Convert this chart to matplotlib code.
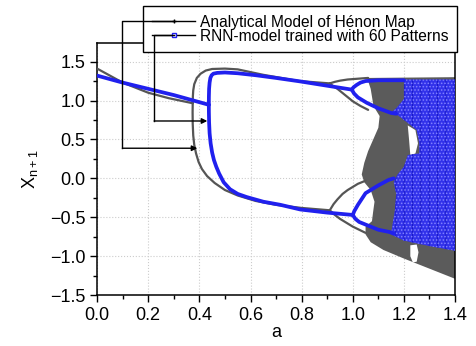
import matplotlib
matplotlib.use("Agg")
import matplotlib.pyplot as plt
from matplotlib.lines import Line2D
from matplotlib.ticker import MultipleLocator

plt.rcParams['font.family'] = ['Liberation Sans', 'DejaVu Sans']
plt.rcParams['mathtext.fontset'] = 'custom'
plt.rcParams['mathtext.rm'] = 'Liberation Sans'
plt.rcParams['hatch.linewidth'] = 0.7

# ---- analytical Henon map (grey) ----
ana_fix_a = [0.0, 0.1, 0.2, 0.28, 0.374]
ana_fix_x = [1.41, 1.23, 1.10, 1.03, 0.965]
ana_p2u_a = [0.374, 0.3745, 0.376, 0.38, 0.39, 0.405, 0.425, 0.45, 0.5, 0.55,
             0.65, 0.79, 0.91]
ana_p2u_x = [0.965, 1.05, 1.13, 1.21, 1.29, 1.345, 1.385, 1.405, 1.41, 1.40,
             1.33, 1.25, 1.22]
ana_p2l_a = [0.374, 0.3735, 0.374, 0.376, 0.38, 0.387, 0.397, 0.41, 0.43, 0.46,
             0.5, 0.55, 0.62, 0.7, 0.8, 0.91]
ana_p2l_x = [0.965, 0.85, 0.7, 0.55, 0.43, 0.32, 0.21, 0.12, 0.03, -0.06,
             -0.15, -0.22, -0.29, -0.34, -0.38, -0.41]
ana_p4a_a = [0.91, 0.93, 0.95, 0.98, 1.02, 1.06]
ana_p4a_x = [1.22, 1.24, 1.255, 1.27, 1.28, 1.29]
ana_p4b_a = [0.91, 0.925, 0.94, 0.97, 1.0, 1.03, 1.06]
ana_p4b_x = [1.22, 1.18, 1.15, 1.07, 0.99, 0.93, 0.88]
ana_p4c_a = [0.91, 0.925, 0.94, 0.96, 0.98, 1.02, 1.05]
ana_p4c_x = [-0.41, -0.33, -0.27, -0.2, -0.15, -0.07, -0.03]
ana_p4d_a = [0.91, 0.93, 0.95, 1.0, 1.05]
ana_p4d_x = [-0.41, -0.47, -0.52, -0.62, -0.70]
# chaotic band outline
ana_chaos_a = [1.06, 1.4, 1.4, 1.3, 1.2, 1.12, 1.07, 1.05, 1.05, 1.075, 1.08,
               1.085, 1.07, 1.045, 1.035, 1.045, 1.06, 1.08, 1.1, 1.105,
               1.09, 1.08, 1.075, 1.07, 1.06]
ana_chaos_x = [1.29, 1.30, -1.29, -1.16, -1.03, -0.92, -0.82, -0.72, -0.62,
               -0.55, -0.42, -0.3, -0.15, -0.05, 0.05, 0.2, 0.35, 0.5, 0.65,
               0.8, 0.88, 0.95, 1.05, 1.15, 1.25]
# periodic windows (white)
win1_a = [1.225, 1.25, 1.257, 1.25, 1.235, 1.225]
win1_x = [-0.86, -0.85, -0.95, -1.07, -1.08, -1.0]
win2_a = [1.215, 1.245, 1.255, 1.245, 1.225, 1.22]
win2_x = [0.68, 0.62, 0.45, 0.32, 0.30, 0.5]

# ---- RNN model (blue) ----
rnn_fix_a = [0.0, 0.1, 0.2, 0.3, 0.437]
rnn_fix_x = [1.32, 1.23, 1.15, 1.07, 0.945]
rnn_p2u_a = [0.437, 0.4372, 0.438, 0.44, 0.443, 0.448, 0.455, 0.47, 0.5, 0.55,
             0.62, 0.7, 0.795, 0.9, 0.996]
rnn_p2u_x = [0.945, 1.05, 1.15, 1.23, 1.29, 1.325, 1.345, 1.355, 1.36, 1.35,
             1.325, 1.29, 1.245, 1.19, 1.14]
rnn_p2l_a = [0.437, 0.4372, 0.438, 0.44, 0.444, 0.45, 0.457, 0.466, 0.477,
             0.495, 0.52, 0.55, 0.585, 0.65, 0.717, 0.795, 0.9, 1.0]
rnn_p2l_x = [0.945, 0.85, 0.72, 0.58, 0.45, 0.33, 0.235, 0.15, 0.064, -0.05,
             -0.14, -0.2, -0.24, -0.3, -0.34, -0.40, -0.44, -0.47]
rnn_p4a_a = [0.996, 1.003, 1.015, 1.03, 1.05, 1.1, 1.2]
rnn_p4a_x = [1.14, 1.17, 1.2, 1.23, 1.25, 1.26, 1.26]
rnn_p4b_a = [0.996, 1.005, 1.02, 1.055, 1.1, 1.15, 1.17]
rnn_p4b_x = [1.14, 1.09, 1.04, 0.97, 0.9, 0.84, 0.83]
rnn_p4c_a = [1.0, 1.006, 1.02, 1.05, 1.1, 1.14, 1.16]
rnn_p4c_x = [-0.47, -0.42, -0.34, -0.19, -0.09, -0.02, 0.0]
rnn_p4d_a = [1.0, 1.01, 1.025, 1.055, 1.1, 1.145, 1.16]
rnn_p4d_x = [-0.47, -0.52, -0.56, -0.60, -0.66, -0.69, -0.71]
rnn_chaos_a = [1.2, 1.4, 1.4, 1.3, 1.2, 1.15, 1.155, 1.165, 1.17, 1.16, 1.175,
               1.2, 1.215, 1.26, 1.26, 1.25, 1.22, 1.18, 1.155, 1.17, 1.2]
rnn_chaos_x = [1.27, 1.27, -0.93, -0.87, -0.8, -0.72, -0.6, -0.4, -0.2, -0.05,
               0.05, 0.15, 0.3, 0.32, 0.45, 0.62, 0.7, 0.8, 0.86, 0.9, 1.02]

grey = '#555555'
blue = '#2020ee'

fig = plt.figure(figsize=(4.76, 3.46), dpi=100)
ax = fig.add_axes([0.204, 0.147, 0.752, 0.729])

# grey analytical model
ax.fill(ana_chaos_a, ana_chaos_x, color='#5b5b5b', lw=0, zorder=2)
for a, x in [(ana_fix_a, ana_fix_x), (ana_p2u_a, ana_p2u_x), (ana_p2l_a, ana_p2l_x),
             (ana_p4a_a, ana_p4a_x), (ana_p4b_a, ana_p4b_x),
             (ana_p4c_a, ana_p4c_x), (ana_p4d_a, ana_p4d_x)]:
    ax.plot(a, x, color=grey, lw=1.6, zorder=3, solid_capstyle='round',
            solid_joinstyle='round')
ax.fill(win1_a, win1_x, color='white', lw=0, zorder=3)
ax.fill(win2_a, win2_x, color='white', lw=0, zorder=3)

# blue RNN model
ax.fill(rnn_chaos_a, rnn_chaos_x, facecolor='#3232ea', lw=0, zorder=4)
ax.fill(rnn_chaos_a, rnn_chaos_x, facecolor='none', edgecolor='#1818c8',
        hatch='||', lw=0, zorder=4)
ax.fill(rnn_chaos_a, rnn_chaos_x, facecolor='none', edgecolor='#8080ff',
        hatch='.....', lw=0, zorder=4)
for a, x in [(rnn_fix_a, rnn_fix_x), (rnn_p2u_a, rnn_p2u_x), (rnn_p2l_a, rnn_p2l_x),
             (rnn_p4a_a, rnn_p4a_x), (rnn_p4b_a, rnn_p4b_x),
             (rnn_p4c_a, rnn_p4c_x), (rnn_p4d_a, rnn_p4d_x)]:
    ax.plot(a, x, color=blue, lw=2.7, zorder=5, solid_capstyle='round',
            solid_joinstyle='round')

ax.set_xlim(0, 1.4)
ax.set_ylim(-1.5, 1.74)
ax.xaxis.set_major_locator(MultipleLocator(0.2))
ax.xaxis.set_minor_locator(MultipleLocator(0.1))
ax.yaxis.set_major_locator(MultipleLocator(0.5))
ax.yaxis.set_minor_locator(MultipleLocator(0.25))
ax.tick_params(which='major', length=5, width=1, labelsize=13, direction='out')
ax.tick_params(which='minor', length=3, width=1, direction='out')
ax.grid(True, which='major', color='#cccccc', ls=':', lw=0.8, zorder=0)
for s in ax.spines.values():
    s.set_linewidth(1.1)
ax.set_xlabel('a', fontsize=13, labelpad=0)
ax.set_ylabel(r'X$_{\mathrm{n+1}}$', fontsize=13, labelpad=7)

handles = [Line2D([], [], color='black', lw=1, marker='+', ms=3),
           Line2D([], [], color='black', lw=1, marker='s', ms=3,
                  mfc='white', mec=blue)]
leg = ax.legend(handles, ['Analytical Model of Hénon Map',
                          'RNN-model trained with 60 Patterns'],
                loc='upper right', bbox_to_anchor=(457 / 476, 1 - 6 / 346),
                bbox_transform=fig.transFigure, borderaxespad=0, fontsize=11.2,
                fancybox=False, edgecolor='black', framealpha=1,
                handlelength=2.8, handletextpad=0.3, labelspacing=-0.05,
                borderpad=0.55)
leg.get_frame().set_linewidth(1)
leg.set_zorder(10)

# connector arrows from the legend handles to the curves
fig.canvas.draw()
to_data = ax.transData.inverted()
starts = []
for h in leg.legend_handles:
    xy = h.get_transform().transform(h.get_xydata())
    starts.append(to_data.transform(xy.mean(axis=0)))

bend_a = [0.099, 0.223]
tip_a = [0.392, 0.431]
tip_x = [0.387, 0.737]
for (sa, sx), ba, ta, tx in zip(starts, bend_a, tip_a, tip_x):
    ax.plot([sa, ba, ba], [sx, sx, tx], color='black', lw=1, clip_on=False,
            zorder=11)
    ax.annotate('', xy=(ta, tx), xytext=(ba, tx),
                arrowprops=dict(arrowstyle='-|>', color='black', lw=1,
                                mutation_scale=8, shrinkA=0, shrinkB=0),
                zorder=11)

fig.savefig('out.png', dpi=100)
